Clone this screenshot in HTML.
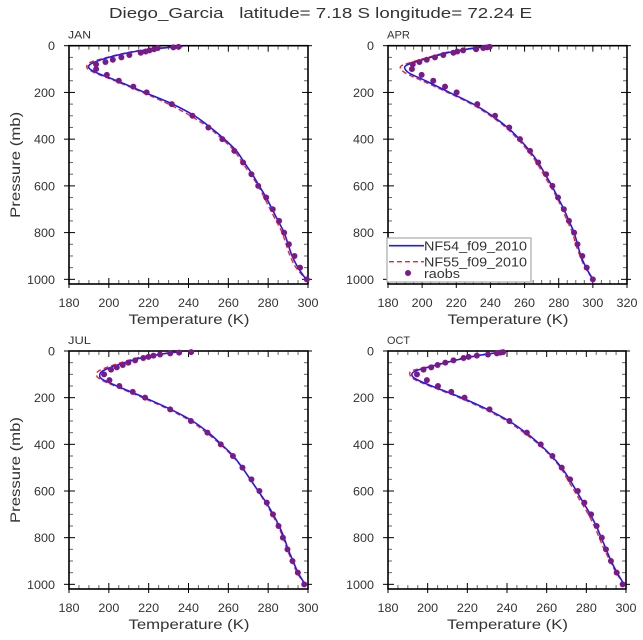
<!DOCTYPE html>
<html><head><meta charset="utf-8"><style>
html,body{margin:0;padding:0;background:#fff;}
svg{display:block;font-family:"Liberation Sans","DejaVu Sans",sans-serif;}
</style></head><body>
<svg id="chart" width="643" height="640" viewBox="0 0 643 640" xmlns="http://www.w3.org/2000/svg">
<text x="109" y="18" font-size="14.5" fill="#333" textLength="423" lengthAdjust="spacingAndGlyphs" xml:space="preserve">Diego_Garcia   latitude= 7.18 S longitude= 72.24 E</text>
</svg>
<script>
// model pressure levels (mb)
const modelLevels = [3,10,20,30,50,70,85,100,120,150,200,250,300,350,400,450,500,550,600,650,700,750,800,850,900,950,1000];
// raob pressure levels (mb)
const raobLevels = [5,7,10,15,20,25,30,40,50,60,70,80,100,125,150,175,200,250,300,350,400,450,500,550,600,650,700,750,800,850,900,950,1000];
const pressureTicks = [0,200,400,600,800,1000];

const janNF54 = [237,227,217,210,200,193,190,190.5,195,204,218,232,243,251,258,264,268,272,275.5,279,282,285,288,290,292,295,299];
const janNF55 = [236,226,216,209,199,191,189,189.5,194,203,217,230,241,250,257,263,267,271,275,278,281,284,287,289,291,294,299];
const janRaobs = [235,232.4,224.6,222.7,220.4,218.5,216,210.3,206.3,202,198.3,193.6,193.6,199,205,212.3,219,231.6,242,250,257,263,267.4,271.6,275,279,282.3,285.5,288,290.4,293.2,296,299.4];

const aprNF54 = [240,231,222,215,205,196,190.5,190,193,202,216,230,241,250,257,263,268,272,276,279.5,283,286,289,291,293,296,300];
const aprNF55 = [239,230,221,213.5,203.5,194,188,187.5,191,200,215,229,240,249,256,262,267,271,275,279,282,285,288,290,292.5,295.5,300];
const aprRaobs = [239.5,238,235.8,231.6,224,220.6,218.3,212.4,207.5,202.7,198.4,194.5,194,199.7,206.5,213.4,220.2,232.3,242.7,251,257.3,263.2,268,272.6,276.3,279.6,283,286,289,291,293.8,296.4,300];

const julNF54 = [236,229,222,216,208,201,197,195.5,196.5,204,218,231,242,250,256.5,262.5,267,271,275,279,282.5,285.5,288,290,292.5,295,298.5];
const julNF55 = [235,228,220,214,206,199,195,193.7,195.5,203,217,230,241,249,256,262,267,271,275,278.5,282,285,287.5,289.5,292,294.5,298.5];
const julRaobs = [241.3,235.3,230.8,225.7,222.4,219.9,217.3,213.2,209.8,207,204,201.1,197.6,200.3,205.3,212,218.2,230.8,241.2,249.5,256.2,262.3,267.1,271.6,275.6,279.3,282.4,285.2,287.4,289.7,292.2,294.9,298.1];

const octNF54 = [239.4,233,225,219,209,200,194,192,194,202,217,230,241,249.5,256.5,262.5,267.5,271.5,275,278.5,282,285,287.5,290,292.5,295.5,299];
const octNF55 = [238.5,232,224,218,208,198.5,192,191,193,201,216,229,240,248.5,256,262,267,270.5,274,277.5,281,284,286.5,289,292,295,299];
const octRaobs = [238,236.7,234.9,230.4,224.8,220.6,218.1,213,208.9,205,201.8,197.9,194.6,199.6,205.2,211.9,218.6,231.2,241.2,250,257,262.9,267.6,271.8,275.7,279,282.4,285.2,287.8,289.9,292.4,295.3,298.3];

const panelNames = ["JAN","APR","JUL","OCT"];
const tempMin = [180,180,180,180];
const tempMax = [300,320,300,300];

const NS = "http://www.w3.org/2000/svg";
const svg = document.getElementById("chart");
function mk(tag, attrs, parent){
  const e = document.createElementNS(NS, tag);
  for (const k in attrs) e.setAttribute(k, attrs[k]);
  (parent||svg).appendChild(e);
  return e;
}
const boxes = [
  {x0:69, x1:308, y0:45.7, y1:284},
  {x0:388, x1:627, y0:45.7, y1:284},
  {x0:69, x1:308, y0:351, y1:589},
  {x0:388, x1:626, y0:351, y1:589}
];
const seriesAll = [
  [janNF54, janNF55, janRaobs],
  [aprNF54, aprNF55, aprRaobs],
  [julNF54, julNF55, julRaobs],
  [octNF54, octNF55, octRaobs]
];

function smoothPath(pts){
  let d = "M" + pts[0][0].toFixed(2) + "," + pts[0][1].toFixed(2);
  for (let i=0;i<pts.length-1;i++){
    const p0 = pts[Math.max(0,i-1)], p1 = pts[i], p2 = pts[i+1], p3 = pts[Math.min(pts.length-1,i+2)];
    const c1x = p1[0] + (p2[0]-p0[0])/6, c1y = p1[1] + (p2[1]-p0[1])/6;
    const c2x = p2[0] - (p3[0]-p1[0])/6, c2y = p2[1] - (p3[1]-p1[1])/6;
    d += " C" + c1x.toFixed(2)+","+c1y.toFixed(2)+" "+c2x.toFixed(2)+","+c2y.toFixed(2)+" "+p2[0].toFixed(2)+","+p2[1].toFixed(2);
  }
  return d;
}

for (let i=0;i<4;i++){
  const b = boxes[i];
  const g = mk("g", {});
  
  
  const tmin = tempMin[i], tmax = tempMax[i];
  const xs = t => b.x0 + (t - tmin) / (tmax - tmin) * (b.x1 - b.x0);
  const ys = p => b.y0 + p / 1020 * (b.y1 - b.y0);

  const tk = mk("g", {stroke:"#000","stroke-width":"1"}, g);
  
  
  for (let t=tmin; t<=tmax; t+=5){
    const major = (t % 20 === 0);
    const x = xs(t);
    const len = major ? 6 : 4;
    mk("line", {x1:x, y1:b.y1, x2:x, y2:b.y1 - len, stroke: major?"#000":"#666"}, tk);
    mk("line", {x1:x, y1:b.y0, x2:x, y2:b.y0 + len, stroke: major?"#000":"#666"}, tk);
    if (major){
      mk("line", {x1:x, y1:b.y1, x2:x, y2:b.y1 + 4}, tk);
    }
  }
  for (let p=0; p<=1000; p+=50){
    const major = (p % 200 === 0);
    const y = ys(p);
    const len = major ? 6 : 4;
    mk("line", {x1:b.x0, y1:y, x2:b.x0 + len, y2:y, stroke: major?"#000":"#666"}, tk);
    mk("line", {x1:b.x1, y1:y, x2:b.x1 - len, y2:y, stroke: major?"#000":"#666"}, tk);
    if (major){
      mk("line", {x1:b.x0, y1:y, x2:b.x0 - 5, y2:y}, tk);
      mk("line", {x1:b.x1, y1:y, x2:b.x1 + 4, y2:y}, tk);
    }
  }
  const fr = mk("rect", {x:b.x0, y:b.y0, width:b.x1-b.x0, height:b.y1-b.y0, fill:"none", stroke:"#000", "stroke-width":"1.6"}, g);
  
  

  for (let t=tmin; t<=tmax; t+=20){
    const s = String(t);
    const tx = mk("text", {x:xs(t), y:b.y1+23, "text-anchor":"middle", "font-size":"12", fill:"#333", textLength:(7*s.length), lengthAdjust:"spacingAndGlyphs"}, g);
    
    
    tx.textContent = s;
  }
  for (const p of pressureTicks){
    const s = String(p);
    const tx = mk("text", {x:b.x0-14, y:ys(p)+4.5, "text-anchor":"end", "font-size":"12", fill:"#333", textLength:(7*s.length), lengthAdjust:"spacingAndGlyphs"}, g);
    
    
    tx.textContent = s;
  }
  const xt = mk("text", {x:(b.x0+b.x1)/2 - 60, y:b.y1+40, "font-size":"14", fill:"#333", textLength:"121", lengthAdjust:"spacingAndGlyphs"}, g);
  
  
  xt.textContent = "Temperature (K)";
  if (i % 2 === 0){
    const cy = (b.y0+b.y1)/2;
    const yt = mk("text", {x:20, y:cy+53, "font-size":"14", fill:"#333", textLength:"106", lengthAdjust:"spacingAndGlyphs", transform:"rotate(-90 20 "+(cy+53)+")"}, g);
    
    
    yt.textContent = "Pressure (mb)";
  }
  const pl = mk("text", {x:b.x0-1, y:b.y0-7, "font-size":"11", fill:"#333", textLength:"23", lengthAdjust:"spacingAndGlyphs"}, g);
  
  
  pl.textContent = panelNames[i];

  const [s54, s55, sr] = seriesAll[i];
  const p55 = mk("path", {d:smoothPath(modelLevels.map((p,k)=>[xs(s55[k]), ys(p)])), fill:"none", stroke:"#ff2020", "stroke-width":"1.4", "stroke-dasharray":"5,3"}, g);
  
  
  const p54 = mk("path", {d:smoothPath(modelLevels.map((p,k)=>[xs(s54[k]), ys(p)])), fill:"none", stroke:"#1a1aff", "stroke-width":"1.6"}, g);
  
  
  raobLevels.forEach((p,k)=>{
    const c = mk("circle", {cx:xs(sr[k]), cy:ys(p), r:"3", fill:"#7a1a8a"}, g);
    
    
  });
}

const lg = mk("g", {});


mk("rect", {x:387, y:238, width:144, height:44, fill:"#fff", stroke:"#aaa", "stroke-width":"1.2"}, lg);
const le1 = mk("g", {}, lg);


mk("line", {x1:389, y1:245.7, x2:424, y2:245.7, stroke:"#1a1aff", "stroke-width":"1.6"}, le1);
const t1 = mk("text", {x:424, y:250.5, "font-size":"13", fill:"#333", textLength:"103", lengthAdjust:"spacingAndGlyphs"}, le1); t1.textContent = "NF54_f09_2010";
const le2 = mk("g", {}, lg);


mk("line", {x1:389, y1:261.7, x2:424, y2:261.7, stroke:"#ff2020", "stroke-width":"1.4", "stroke-dasharray":"5,3"}, le2);
const t2 = mk("text", {x:424, y:266.5, "font-size":"13", fill:"#333", textLength:"103", lengthAdjust:"spacingAndGlyphs"}, le2); t2.textContent = "NF55_f09_2010";
const le3 = mk("g", {}, lg);


mk("circle", {cx:408, cy:273, r:"3", fill:"#7a1a8a"}, le3);
const t3 = mk("text", {x:424, y:278, "font-size":"13", fill:"#333", textLength:"36", lengthAdjust:"spacingAndGlyphs"}, le3); t3.textContent = "raobs";
</script>
</body></html>
